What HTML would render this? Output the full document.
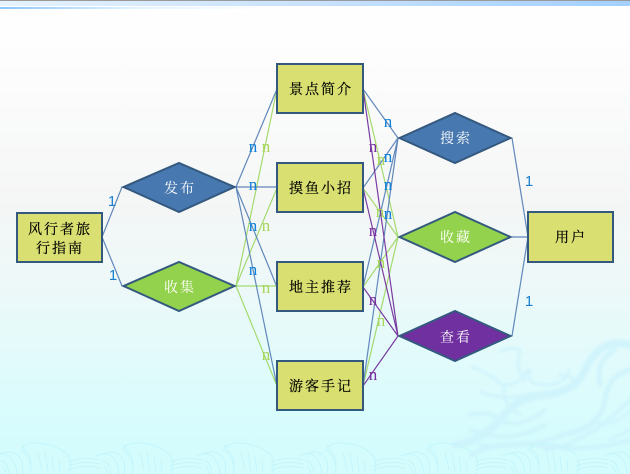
<!DOCTYPE html>
<html><head><meta charset="utf-8">
<style>
html,body{margin:0;padding:0;background:#fff}
#p{position:relative;width:630px;height:474px;overflow:hidden;background:linear-gradient(#fff 0,#fdfdfd 60px,#f5f6f6 200px,#eef8f8 280px,#e0fbfc 370px,#d5fcfd 440px,#d5fcfd 100%)}
svg{position:absolute;left:0;top:0}
text{font-family:"Liberation Serif","Noto Serif CJK SC",serif}
.t{font-size:14px;letter-spacing:2px;text-anchor:middle;fill:#000;stroke:#000;stroke-width:.2px}
.w{font-size:14px;letter-spacing:2px;text-anchor:middle;fill:#fff}
.n{font-size:17px;text-anchor:middle}
.o{font-family:"Liberation Sans",sans-serif;font-size:15px;text-anchor:middle;fill:#1a7fd0}
</style></head><body><div id="p">
<svg width="630" height="474" viewBox="0 0 630 474">
<defs>
<linearGradient id="a" x1="0" x2="1"><stop offset="0" stop-color="#e6f2ff"/><stop offset=".5" stop-color="#c8e2ff"/><stop offset="1" stop-color="#a3d0ff"/></linearGradient>
<linearGradient id="b" x1="0" x2="1"><stop offset="0" stop-color="#8cc6fb"/><stop offset=".5" stop-color="#e0f4ff"/><stop offset="1" stop-color="#ffffff"/></linearGradient>
<filter id="f"><feGaussianBlur stdDeviation="1.4"/></filter>
<g id="wave" fill="none" stroke="#c3f5fc" stroke-width="1">
<path d="M22 474q3-14-6-20-6-4-16 0M30 474q4-18-7-25-3-5 2-3M23 448q2-5 12-5 20 0 33 12 5 8 1 19M20 449q10 8 10 16M38 452l4 18M45 452l3 20M52 456l2 16M59 460l1 12M68 462q16-6 32-2 M68 466q16-6 32-2M68 470q16-6 32-2"/>
<path d="M-6 456q8-4 14-1 8 6 9 19M0 461q7-1 9 13M2 466q3 2 4 8"/>
</g>
</defs>
<rect x="0" y="0" width="630" height="1" fill="#9a9a9a"/>
<rect x="0" y="1" width="630" height="5" fill="url(#a)"/>
<rect x="0" y="7" width="270" height="2" fill="url(#b)"/>

<!-- dragon decoration -->
<g fill="none" stroke="#cdf3fc" filter="url(#f)" stroke-linecap="round" opacity=".8">
<path d="M630 345q-30-8-45 25-10 22-40 25-30 2-45 25-20 22-45 25" stroke-width="8"/>
<path d="M615 350q-20 10-15 35 M630 370q-22 5-25 30-5 30-45 35" stroke-width="5"/>
<path d="M472 367q20 8 30 18 20 0 25-15M505 385q-5 18 15 30M530 370q-5 15 15 15 20 0 25-15 M560 375q15 0 15 10" stroke-width="3"/>
<path d="M470 415q20-5 30 5 20 10 45-10 M470 430q40 15 75-5 M480 445q40 5 85-10 M545 450q40-5 85-50" stroke-width="4"/>
<path d="M500 352q10-6 20-2 -5 20 5 30M480 392q30 10 50 2M592 420q20 10 38-10M610 440q10-5 20-10" stroke-width="3"/>
<path d="M470 455q30-15 70-10 50 8 90-5" stroke-width="5"/>
</g>
<g>
<use href="#wave" x="0"/><use href="#wave" x="102"/><use href="#wave" x="203"/><use href="#wave" x="305"/><use href="#wave" x="407"/><use href="#wave" x="508"/><use href="#wave" x="610"/>
</g>

<!-- connectors -->
<g fill="none" stroke-width="1.2">
<g stroke="#a4da6e">
<path d="M236 286L277 89M236 286L277 188M236 286H277M236 286L277 386"/>
<path d="M363 89L398 237M363 188L398 237M363 287L398 237M363 386L398 237"/>
</g>
<g stroke="#6088bb">
<path d="M102 237L122 187M102 237L122 286"/>
<path d="M236 187L277 89M236 187H277M236 187L277 287M236 187L277 386"/>
<path d="M363 89L398 138M363 188L398 138M363 287L398 138M363 386L398 138"/>
<path d="M512 138L528 237M512 237H528M512 336L528 237"/>
</g>
<g stroke="#7a3ca2">
<path d="M363 89L398 336M363 188L398 336M363 287L398 336M363 386L398 336"/>
</g>
</g>

<!-- nodes -->
<g stroke="#34597f" stroke-width="2">
<g fill="#d9e071">
<rect x="17" y="213" width="85" height="49"/>
<rect x="277" y="64" width="86" height="49"/>
<rect x="277" y="163" width="86" height="49"/>
<rect x="277" y="262" width="86" height="49"/>
<rect x="277" y="361" width="86" height="49"/>
<rect x="528" y="212" width="85" height="50"/>
</g>
<polygon points="123.5,187 179,163 234.5,187 179,212" fill="#4778b0"/>
<polygon points="123.5,286 179,262 234.5,286 179,311" fill="#93d24c"/>
<polygon points="399.5,138 455,113 510.5,138 455,163" fill="#4778b0"/>
<polygon points="399.5,237 455,212 510.5,237 455,262" fill="#93d24c"/>
<polygon points="399.5,336 455,311 510.5,336 455,361" fill="#7030a0"/>
</g>

<!-- node labels -->
<text class="t" x="60" y="234">风行者旅</text>
<text class="t" x="60" y="253">行指南</text>
<text class="t" x="321" y="94">景点简介</text>
<text class="t" x="321" y="193">摸鱼小招</text>
<text class="t" x="321" y="292">地主推荐</text>
<text class="t" x="321" y="391">游客手记</text>
<text class="t" x="571" y="242">用户</text>
<text class="w" x="180" y="193">发布</text>
<text class="w" x="180" y="292">收集</text>
<text class="w" x="456" y="143">搜索</text>
<text class="w" x="456" y="242">收藏</text>
<text class="w" x="456" y="342">查看</text>

<!-- cardinalities -->
<text class="o" x="112" y="206">1</text>
<text class="o" x="113" y="280">1</text>
<text class="o" x="529" y="186">1</text>
<text class="o" x="529" y="306">1</text>
<g fill="#0f80d8">
<text class="n" x="253" y="152">n</text>
<text class="n" x="253" y="190">n</text>
<text class="n" x="253" y="231">n</text>
<text class="n" x="253" y="275">n</text>
<text class="n" x="388" y="127">n</text>
<text class="n" x="388" y="162">n</text>
<text class="n" x="388" y="190">n</text>
<text class="n" x="388" y="219">n</text>
</g>
<g fill="#a6d65a">
<text class="n" x="266" y="152">n</text>
<text class="n" x="266" y="231">n</text>
<text class="n" x="266" y="293">n</text>
<text class="n" x="266" y="360">n</text>
<text class="n" x="381" y="165">n</text>
<text class="n" x="380" y="217">n</text>
<text class="n" x="381" y="268">n</text>
<text class="n" x="381" y="326">n</text>
</g>
<g fill="#7a30a0">
<text class="n" x="373" y="152">n</text>
<text class="n" x="373" y="236">n</text>
<text class="n" x="373" y="305">n</text>
<text class="n" x="373" y="380">n</text>
</g>
</svg>
</div></body></html>
